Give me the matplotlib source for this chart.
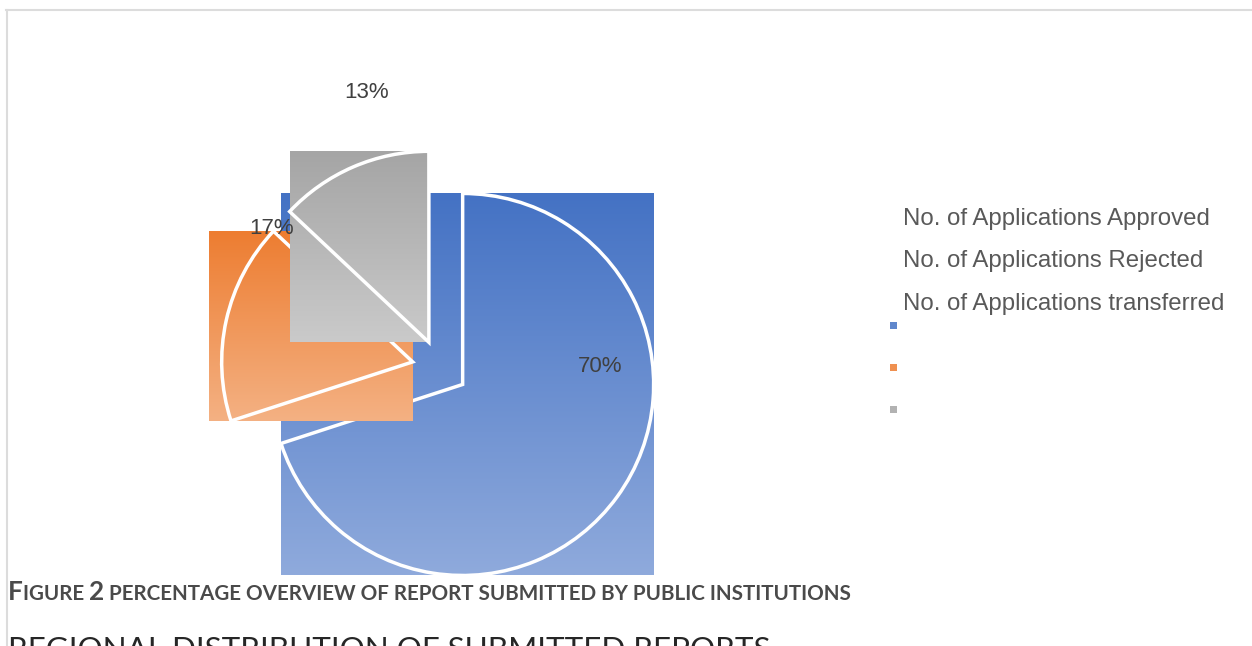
import numpy as np
import matplotlib.pyplot as plt
from matplotlib.colors import to_rgb
from matplotlib.lines import Line2D
from matplotlib.patches import Rectangle

# data
categories = ["No. of Applications Approved",
              "No. of Applications Rejected",
              "No. of Applications transferred"]
shares = [70, 17, 13]
top_colors = ["#4472C4", "#ED7D31", "#A5A5A5"]
bottom_colors = ["#8FAADC", "#F4B183", "#CACACA"]
caption_parts = [("F", True), ("IGURE ", False), ("2", True),
                 (" PERCENTAGE OVERVIEW OF REPORT SUBMITTED BY PUBLIC INSTITUTIONS", False)]
next_heading = "REGIONAL DISTRIBUTION OF SUBMITTED REPORTS"

W, H = 1252, 646
fig = plt.figure(figsize=(W / 100, H / 100), dpi=100)
ax = fig.add_axes([0, 0, 1, 1])

# pie, outlines only; the gradient boxes go underneath each wedge
wedges, _ = ax.pie(shares, radius=191, center=(440, H - 368), startangle=90,
                   counterclock=False, explode=[28] * len(shares),
                   wedgeprops=dict(facecolor="none", edgecolor="white", linewidth=2.5))

box_pad_left = [0, 13, 0]  # orange box in the source reaches a bit past its arc
for i, w in enumerate(wedges):
    bb = w.get_path().get_extents()
    c0, c1 = np.array(to_rgb(top_colors[i])), np.array(to_rgb(bottom_colors[i]))
    t = np.linspace(0, 1, 256)[:, None, None]
    grad = c0 * (1 - t) + c1 * t
    ax.imshow(grad, extent=(bb.x0 - box_pad_left[i], bb.x1, bb.y0, bb.y1), origin="upper",
              aspect="auto", zorder=2 * i + 1, interpolation="bilinear")
    w.set_zorder(2 * i + 2)

# data labels (placed where the original put them)
label_pos = [(600, 366), (272, 229), (367, 92)]
for v, (x, y) in zip(shares, label_pos):
    ax.text(x, H - y, f"{v}%", fontsize=16, color="#404040", ha="center", va="center",
            family="Liberation Sans", zorder=10)

# legend: texts and markers came out misaligned in the source
for i, name in enumerate(categories):
    ax.text(903, H - (219 + 42.5 * i), name, fontsize=17.3, color="#595959",
            ha="left", va="center", family="Liberation Sans")
    ax.add_patch(Rectangle((889.5, H - (325 + 42 * i) - 3.5), 7, 7,
                           facecolor=top_colors[i], alpha=0.85, edgecolor="none"))

ax.set_xlim(0, W)
ax.set_ylim(0, H)
ax.axis("off")

# page frame lines
fig.add_artist(Line2D([6 / W, 1], [1 - 10 / H] * 2, color="#dcdcdc", lw=1.5))
fig.add_artist(Line2D([7 / W] * 2, [0, 1 - 10 / H], color="#dcdcdc", lw=1.5))

renderer = fig.canvas.get_renderer()

# caption in small caps, built piece by piece, then scaled to the source width
def draw_caption(scale):
    x = 8
    texts = []
    for txt, big in caption_parts:
        t = fig.text(x / W, 1 - 600 / H, txt, fontsize=(15.5 if big else 12.2) * scale,
                     weight="bold", family="Lato", color="#4a4a4a", ha="left", va="baseline")
        x = t.get_window_extent(renderer).x1
        texts.append(t)
    return texts, x

texts, x_end = draw_caption(1.0)
for t in texts:
    t.remove()
draw_caption((853 - 8) / (x_end - 8))

head = fig.text(8 / W, 1 - 636 / H, next_heading, fontsize=24,
                family="Lato", color="#262626", ha="left", va="top")
ext = head.get_window_extent(renderer)
head.set_fontsize(24 * (770 - 8) / ext.width)

fig.savefig("out.png", dpi=100)
